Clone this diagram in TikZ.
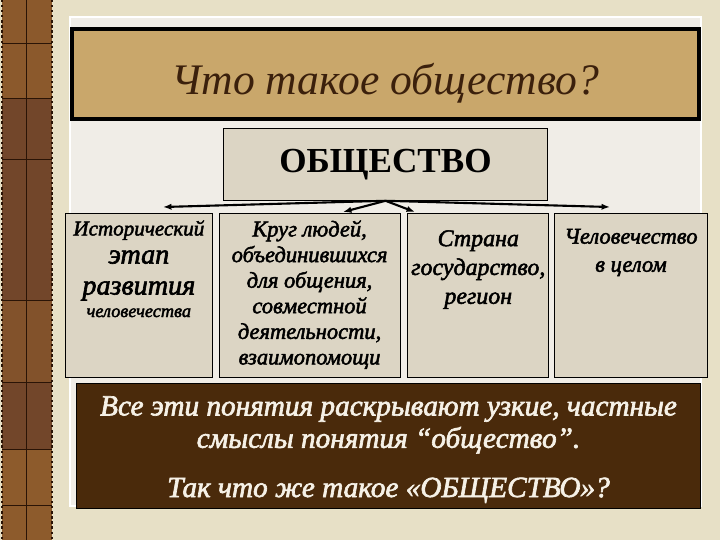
\documentclass[tikz,border=0pt]{standalone}
\usepackage{fontspec}
\setmainfont{Liberation Serif}
\newfontfamily\heavyserif{Liberation Serif}[FakeBold=2.2]
\usepackage{xcolor}
\usetikzlibrary{positioning}
\usetikzlibrary{arrows.meta}

\definecolor{paper}{HTML}{E7E0C6}
\definecolor{bark}{HTML}{72462A}
\definecolor{barklight}{HTML}{A0692E}
\definecolor{barkline}{HTML}{2A1406}
\definecolor{framefill}{HTML}{F0EDE7}
\definecolor{framegray}{HTML}{9A9A9A}
\definecolor{tan}{HTML}{C9A76B}
\definecolor{ink}{HTML}{3B200C}
\definecolor{cellfill}{HTML}{DCD5C4}
\definecolor{notefill}{HTML}{4A2A0B}
\definecolor{cream}{HTML}{F6F1E7}

\newcommand{\cellpar}[2]{\parbox[c][3.75cm][t]{#1}{\centering #2}}

\tikzset{cell/.style={draw, fill=cellfill, line width=0.6pt, inner xsep=2pt, inner ysep=5pt, anchor=north west, font=\heavyserif\itshape}}
\tikzset{band/.style={draw=black, line width=3pt, fill=tan, minimum width=15.67cm, minimum height=2.25cm, text=ink}}
\tikzset{topic/.style={draw, fill=cellfill, line width=0.6pt, minimum width=8.1cm, minimum height=1.8cm}}
\tikzset{link/.style={-{Latex[length=6pt,width=4.5pt]}, line width=1.5pt}}

\begin{document}
\begin{tikzpicture}[x=0.025cm, y=-0.025cm, node distance=0.15cm]
\useasboundingbox (0,0) rectangle (720,540);
\fill[paper] (0,0) rectangle (720,540);

% book spine on the left
\fill[bark] (2,0) rectangle (52,540);
\fill[barklight, opacity=.55] (2,0) rectangle (52,98);
\fill[barklight, opacity=.35] (2,300) rectangle (52,382);
\fill[barklight, opacity=.6] (2,449) rectangle (52,540);
\draw[barkline] (26,0) -- (26,540);
\foreach \y in {43,98,159,300,382,449,505}
  \draw[barkline] (2,\y) -- (52,\y);
\draw[barkline, dotted, line width=1.6pt] (2,0) -- (2,540);
\draw[barkline, dotted, line width=1.6pt] (52,0) -- (52,540);

% slide frame
\filldraw[fill=framefill, draw=framegray, double=white, double distance=1pt] (70,17) rectangle (701,506);

\node[band, font=\itshape\fontsize{31}{38}\selectfont] (title) at (385.5,74) {\raisebox{-6.5pt}[\height][\depth]{Что такое общество?}};
\node[topic, below=0.17cm of title, font=\bfseries\fontsize{25}{30}\selectfont] (topic) {ОБЩЕСТВО};

\node[cell] (hist) at (65,213) {\cellpar{3.53cm}{%
  {\fontsize{15}{18}\selectfont Исторический\par}
  {\fontsize{20}{20}\selectfont этап\par}
  {\fontsize{20}{22}\selectfont развития\par}
  {\fontsize{13}{16}\selectfont человечества\par}}};
\node[cell, right=of hist] (people) {\cellpar{4.38cm}{%
  \fontsize{16}{18.2}\selectfont Круг людей,\\ объединившихся\\ для общения,\\ совместной\\ деятельности,\\ взаимопомощи}};
\node[cell, right=0.175cm of people] (country) {\cellpar{3.38cm}{%
  \vspace{7pt}\fontsize{17}{20.5}\selectfont Страна\\ государство,\\ регион}};
\node[cell, right=0.125cm of country] (mankind) {\cellpar{3.68cm}{%
  \vspace{6pt}\fontsize{16}{20}\selectfont Человечество\\ в целом}};

\coordinate (tip1) at (163,207);
\coordinate (tip2) at (343,212);
\coordinate (tip3) at (415,212);
\coordinate (tip4) at (610,207);
\draw[link] (topic.south) -- (tip1);
\draw[link] (topic.south) -- (tip2);
\draw[link] (topic.south) -- (tip3);
\draw[link] (topic.south) -- (tip4);

\node[draw, fill=notefill, line width=0.6pt, minimum width=15.6cm, minimum height=3.12cm,
  anchor=north west, align=center, text=cream, font=\heavyserif\itshape\fontsize{20.8}{23}\selectfont]
  (note) at (76,383) {\rule{0pt}{19pt}Все эти понятия раскрывают узкие, частные\\ смыслы понятия “общество”.\\[12pt] Так что же такое «ОБЩЕСТВО»?};
\end{tikzpicture}
\end{document}
